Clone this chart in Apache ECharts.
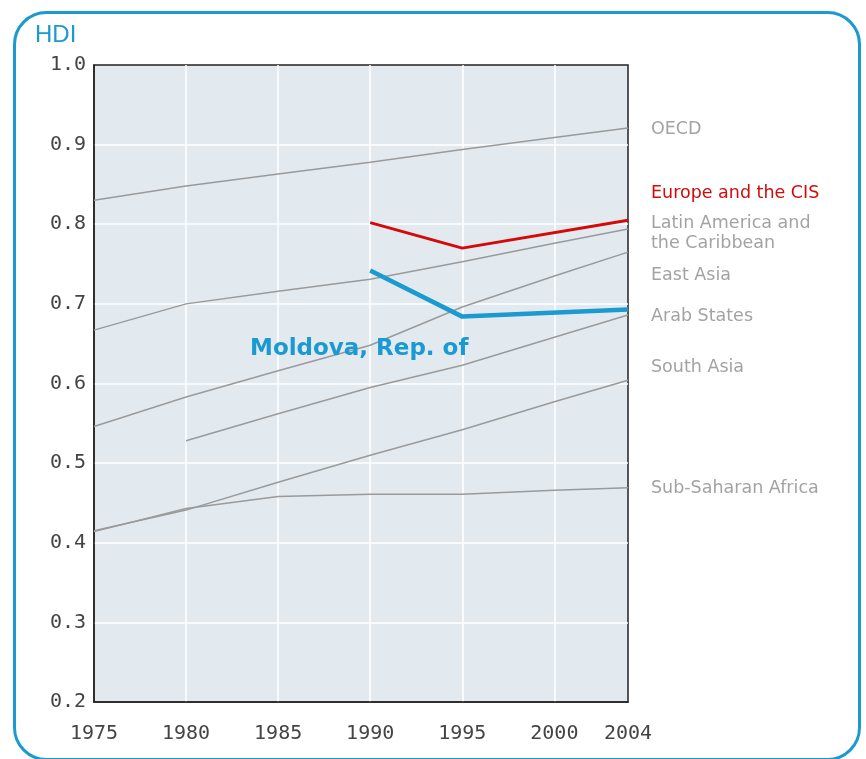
<!DOCTYPE html>
<html>
<head>
<meta charset="utf-8">
<script src="https://cdn.jsdelivr.net/npm/echarts@6/dist/echarts.min.js"></script>
<style>
html,body{margin:0;padding:0;background:#fff;}
#c{width:866px;height:759px;}
</style>
</head>
<body>
<div id="c"></div>
<script>
// ---- data ----
var years = [1975, 1980, 1985, 1990, 1995, 2000, 2004];
var oecd = [0.830, 0.848, 0.863, 0.878, 0.894, 0.909, 0.921];
var latinAmerica = [0.667, 0.700, 0.716, 0.731, 0.753, 0.776, 0.794];
var eastAsia = [0.546, 0.583, 0.616, 0.648, 0.696, 0.735, 0.765];
var arabStates = [null, 0.528, 0.562, 0.595, 0.623, 0.658, 0.686];
var southAsia = [0.415, 0.441, 0.476, 0.510, 0.542, 0.577, 0.604];
var subSaharan = [0.414, 0.443, 0.458, 0.461, 0.461, 0.466, 0.469];
var europeCISYears = [1990, 1995, 2004];
var europeCIS = [0.802, 0.770, 0.805];
var moldovaYears = [1990, 1995, 2004];
var moldova = [0.742, 0.684, 0.693];

var yTicks = [0.2, 0.3, 0.4, 0.5, 0.6, 0.7, 0.8, 0.9, 1.0];
var xTicks = [1975, 1980, 1985, 1990, 1995, 2000, 2004];

var regionLabels = ['OECD', 'Europe and the CIS', 'Latin America and\nthe Caribbean', 'East Asia', 'Arab States', 'South Asia', 'Sub-Saharan Africa'];
var countryLabel = 'Moldova, Rep. of';
var yAxisTitle = 'HDI';

function pairs(xs, ys) {
  var out = [];
  for (var i = 0; i < xs.length; i++) {
    if (ys[i] !== null) out.push([xs[i], ys[i]]);
  }
  return out;
}

var GRAY = '#9a9a9a';
var RED = '#d40a0a';
var BLUE = '#1a9ad0';
var MONO = '"DejaVu Sans Mono", "Liberation Mono", monospace';

function grayLine(name, vals) {
  return {
    name: name, type: 'line', data: pairs(years, vals), showSymbol: false,
    lineStyle: { color: GRAY, width: 1.5 }, silent: true, z: 2
  };
}

var chart = echarts.init(document.getElementById('c'), null, { renderer: 'canvas' });

var labelFont = '17.5px "DejaVu Sans", Verdana, sans-serif';
var labelPos = [
  { y: 129, color: '#a3a3a3' },
  { y: 193, color: RED },
  { y: 233, color: '#a3a3a3' },
  { y: 275, color: '#a3a3a3' },
  { y: 316, color: '#a3a3a3' },
  { y: 367, color: '#a3a3a3' },
  { y: 488, color: '#a3a3a3' }
];

var graphics = [
  {
    type: 'rect', left: 12, top: 10, z: 0,
    shape: { width: 845, height: 747, r: 32 },
    style: { fill: 'none', stroke: BLUE, lineWidth: 3 }
  },
  {
    type: 'text', left: 35, top: 23,
    style: { text: yAxisTitle, fill: BLUE, font: '24px "Liberation Sans", Arial, sans-serif' }
  },
  {
    type: 'text', x: 250, y: 349, z: 20,
    style: { text: countryLabel, fill: BLUE, font: 'bold 23px "DejaVu Sans", Verdana, sans-serif', textVerticalAlign: 'middle' }
  }
];
regionLabels.forEach(function (t, i) {
  graphics.push({
    type: 'text', x: 651, y: labelPos[i].y,
    style: {
      text: t, fill: labelPos[i].color, font: labelFont,
      textVerticalAlign: 'middle', lineHeight: 20
    }
  });
});

var option = {
  animation: false,
  backgroundColor: '#ffffff',
  grid: {
    left: 94, right: 238, top: 65, bottom: 57,
    show: true, backgroundColor: '#e2eaf0', borderColor: '#222', borderWidth: 1.5
  },
  xAxis: {
    type: 'value', min: 1975, max: 2004, interval: 5,
    axisLine: { show: true, lineStyle: { color: '#222', width: 1.5 } },
    axisTick: { show: false },
    axisLabel: {
      color: '#444', fontSize: 20, fontFamily: MONO,
      margin: 22, showMaxLabel: true, showMinLabel: true,
      formatter: function (v) { return String(v); }
    },
    splitLine: { show: true, showMinLine: false, showMaxLine: false, lineStyle: { color: '#ffffff', width: 1.5 } }
  },
  yAxis: {
    type: 'value', min: 0.2, max: 1.0, interval: 0.1,
    axisLine: { show: true, lineStyle: { color: '#222', width: 1.5 } },
    axisTick: { show: false },
    axisLabel: {
      color: '#444', fontSize: 20, fontFamily: MONO,
      margin: 8,
      formatter: function (v) { return v.toFixed(1); }
    },
    splitLine: { show: true, showMinLine: false, showMaxLine: false, lineStyle: { color: '#ffffff', width: 1.5 } }
  },
  graphic: graphics,
  series: [
    grayLine('OECD', oecd),
    grayLine('Latin America and the Caribbean', latinAmerica),
    grayLine('East Asia', eastAsia),
    grayLine('Arab States', arabStates),
    grayLine('South Asia', southAsia),
    grayLine('Sub-Saharan Africa', subSaharan),
    {
      name: 'Europe and the CIS', type: 'line', data: pairs(europeCISYears, europeCIS),
      showSymbol: false, lineStyle: { color: RED, width: 3 }, z: 3
    },
    {
      name: 'Moldova, Rep. of', type: 'line', data: pairs(moldovaYears, moldova),
      showSymbol: false, lineStyle: { color: BLUE, width: 4.5 }, z: 4
    }
  ]
};
chart.setOption(option);
</script>
</body>
</html>
